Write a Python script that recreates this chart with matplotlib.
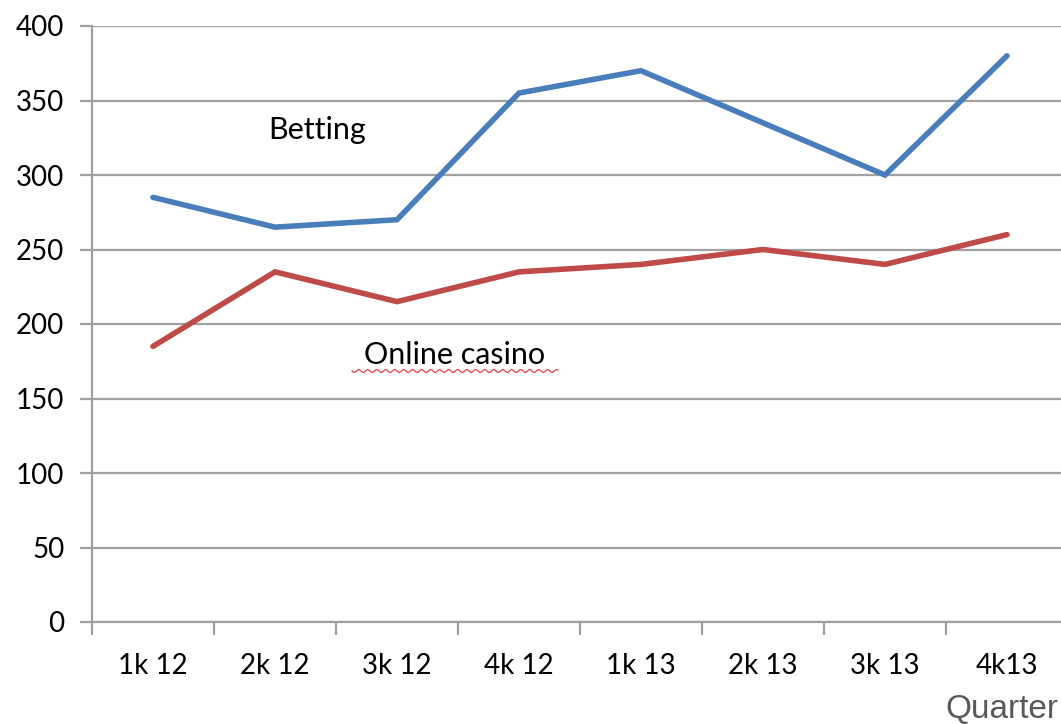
import matplotlib.pyplot as plt
import numpy as np

# data
quarters = ["1k 12", "2k 12", "3k 12", "4k 12", "1k 13", "2k 13", "3k 13", "4k13"]
betting = [285, 265, 270, 355, 370, 335, 300, 380]
casino = [185, 235, 215, 235, 240, 250, 240, 260]

plt.rcParams['font.family'] = ['Lato', 'DejaVu Sans']

fig = plt.figure(figsize=(10.61, 7.24), dpi=100)
W, H = 1061, 724
ax = fig.add_axes([92 / W, 1 - 622 / H, (1068 - 92) / W, (622 - 26) / H])

x = np.arange(len(quarters))
ax.plot(x, betting, color="#4a7ebb", lw=4, solid_capstyle="round", solid_joinstyle="miter", zorder=3)
ax.plot(x, casino, color="#be4b48", lw=4, solid_capstyle="round", solid_joinstyle="miter", zorder=3)

ax.set_xlim(-0.5, len(quarters) - 0.5)
ax.set_ylim(0, 400)
ax.set_yticks(range(0, 401, 50))
ax.yaxis.grid(True, color="#a0a0a0", lw=1.6)
ax.set_axisbelow(True)

# category ticks on boundaries, labels centred
ax.set_xticks(np.arange(-0.5, len(quarters) - 0.4, 1))
ax.set_xticklabels([])
ax.set_xticks(x, minor=True)
ax.set_xticklabels(quarters, minor=True, fontsize=20)
ax.tick_params(axis="x", which="minor", length=0, pad=22)
ax.tick_params(axis="x", which="major", length=9, width=1.6, color="#a0a0a0", direction="out")
ax.tick_params(axis="y", length=9, width=1.6, color="#a0a0a0", labelsize=20, pad=11)

for s in ["top", "right"]:
    ax.spines[s].set_visible(False)
for s in ["left", "bottom"]:
    ax.spines[s].set_color("#a0a0a0")
    ax.spines[s].set_linewidth(1.6)

# annotations
fig.text(317 / W, 1 - 130 / H, "Betting", fontsize=22, ha="center", va="center")
fig.text(455 / W, 1 - 355 / H, "Online casino", fontsize=22, ha="center", va="center")
# wavy spell-check underline
wx = np.linspace(352, 558, 120)
wy = 371 + 1.6 * np.sin((wx - 352) / 4.5 * np.pi)
fig.add_artist(plt.Line2D(wx / W, 1 - wy / H, color="#e04040", lw=0.9))

fig.text(1058 / W, 1 - 710 / H, "Quarter", fontsize=24, color="#595959", ha="right", va="center",
         family=["Liberation Sans", "DejaVu Sans"])

fig.savefig("out.png", dpi=100)
